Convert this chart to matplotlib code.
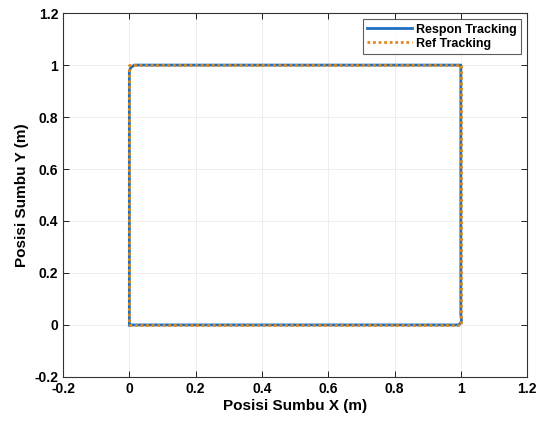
import matplotlib
matplotlib.use("Agg")
import matplotlib.pyplot as plt

# reference path (square)
ref_x = [0, 1, 1, 0, 0]
ref_y = [0, 0, 1, 1, 0]

# tracking response (small overshoot at the corners)
resp_x = [0, 0.99, 0.998, 1.002, 1.0, 1.0, 0.015, 0.004, 0.0, 0.0, 0.0]
resp_y = [0, 0.0, 0.004, 0.015, 0.04, 1.0, 1.0, 0.99, 0.975, 0.95, 0.0]

xticks = [-0.2, 0, 0.2, 0.4, 0.6, 0.8, 1, 1.2]
yticks = [-0.2, 0, 0.2, 0.4, 0.6, 0.8, 1, 1.2]
tick_labels = ["-0.2", "0", "0.2", "0.4", "0.6", "0.8", "1", "1.2"]

plt.rcParams['font.family'] = ['Liberation Sans', 'DejaVu Sans']
plt.rcParams['font.weight'] = 'bold'

fig = plt.figure(figsize=(5.39, 4.23), dpi=100)
ax = fig.add_axes([0.117, 0.109, 0.861, 0.86])

ax.plot(resp_x, resp_y, color='#1f6fc0', lw=2, label='Respon Tracking')
ax.plot(ref_x, ref_y, color='#e08a1e', lw=2, ls=(0, (1, 1)), label='Ref Tracking')

ax.set_xlim(-0.2, 1.2)
ax.set_ylim(-0.2, 1.2)
ax.set_xticks(xticks)
ax.set_xticklabels(tick_labels)
ax.set_yticks(yticks)
ax.set_yticklabels(tick_labels)
ax.tick_params(direction='in', top=True, right=True, labelsize=10, length=4, width=0.6)
for lab in ax.get_xticklabels() + ax.get_yticklabels():
    lab.set_fontweight('bold')
ax.grid(True, color='#ebebeb', lw=0.6)
for s in ax.spines.values():
    s.set_color('#333333')
    s.set_linewidth(0.8)

ax.set_xlabel('Posisi Sumbu X (m)', fontsize=11, fontweight='bold', labelpad=2)
ax.set_ylabel('Posisi Sumbu Y (m)', fontsize=11, fontweight='bold', labelpad=4)

leg = ax.legend(loc='upper right', fontsize=9, frameon=True, fancybox=False,
                edgecolor='#333333', handlelength=3.6, handletextpad=0.3,
                borderpad=0.35, labelspacing=0.15, borderaxespad=0.5)
leg.get_frame().set_linewidth(0.8)
for t in leg.get_texts():
    t.set_fontweight('bold')

fig.savefig('out.png', dpi=100)
